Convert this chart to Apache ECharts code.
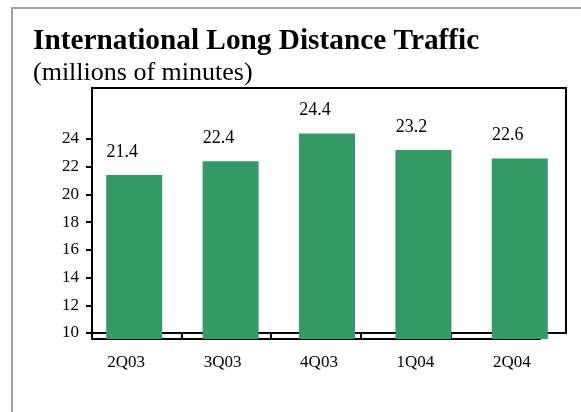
<!DOCTYPE html>
<html>
<head>
<meta charset="utf-8">
<script src="https://cdn.jsdelivr.net/npm/echarts@6/dist/echarts.min.js"></script>
<style>
html,body{margin:0;padding:0;background:#fff;}
#chart{width:581px;height:412px;}
</style>
</head>
<body>
<div id="chart"></div>
<script>
// Quarterly international long distance traffic, millions of minutes
const quarters = ['2Q03', '3Q03', '4Q03', '1Q04', '2Q04'];
const minutes = [21.4, 22.4, 24.4, 23.2, 22.6];
const yTicks = [10, 12, 14, 16, 18, 20, 22, 24];

const FONT = '"Liberation Serif", "Times New Roman", serif';
const GREEN = '#339966';

// shared value scale: axis floor sits slightly below the first tick
const Y_TOP = 27.68;
const Y_BASE = 9.57;

const chart = echarts.init(document.getElementById('chart'), null, {renderer: 'canvas'});

chart.setOption({
  animation: false,
  backgroundColor: '#fff',
  title: [
    {text: 'International Long Distance Traffic', left: 28, top: 22,
     textStyle: {fontFamily: FONT, fontWeight: 'bold', fontSize: 29.3, color: '#000'}},
    {text: '(millions of minutes)', left: 28, top: 55,
     textStyle: {fontFamily: FONT, fontWeight: 'normal', fontSize: 26, color: '#000'}}
  ],
  graphic: [
    // outer frame: only its top and left edges fall inside the page
    {type: 'rect', shape: {x: 12, y: 8, width: 700, height: 600}, z: -10,
     style: {fill: 'none', stroke: '#a0a0a0', lineWidth: 2}}
  ],
  grid: [
    // bars
    {left: 86, right: 13, top: 88, bottom: 73},
    // framed plot box with the value scale
    {left: 92, right: 15, top: 88, bottom: 79, show: true, borderColor: '#000', borderWidth: 2, backgroundColor: 'transparent'},
    // baseline with category dividers
    {left: 92, right: 41, top: 88, bottom: 73}
  ],
  xAxis: [
    {gridIndex: 0, type: 'category', data: quarters,
     axisLine: {show: false}, axisTick: {show: false},
     axisLabel: {fontFamily: FONT, fontSize: 17, color: '#000', margin: 15, padding: [0, 16, 0, 0]}},
    {gridIndex: 1, type: 'value', min: 0, max: 1, show: false},
    {gridIndex: 2, type: 'category', data: quarters,
     axisLine: {show: true, lineStyle: {color: '#000', width: 2}},
     axisTick: {show: true, inside: true, length: 6, lineStyle: {color: '#000', width: 2}},
     axisLabel: {show: false}}
  ],
  yAxis: [
    {gridIndex: 0, type: 'value', min: Y_BASE, max: Y_TOP, show: false},
    {gridIndex: 1, type: 'value', min: 10, max: Y_TOP,
     splitLine: {show: false},
     axisLine: {show: true, lineStyle: {color: '#000', width: 2}},
     axisTick: {show: true, length: 6, customValues: yTicks, lineStyle: {color: '#000', width: 2}},
     axisLabel: {customValues: yTicks, fontFamily: FONT, fontSize: 17, color: '#000', margin: 13}},
    {gridIndex: 2, type: 'value', min: 0, max: 1, show: false}
  ],
  series: [
    {type: 'bar', xAxisIndex: 0, yAxisIndex: 0, data: minutes, barWidth: 56, z: 5,
     itemStyle: {color: GREEN},
     label: {show: true, position: 'top', distance: 14, offset: [-12, 0],
             fontFamily: FONT, fontSize: 18, color: '#000',
             formatter: p => p.value.toFixed(1)}}
  ]
});
</script>
</body>
</html>
